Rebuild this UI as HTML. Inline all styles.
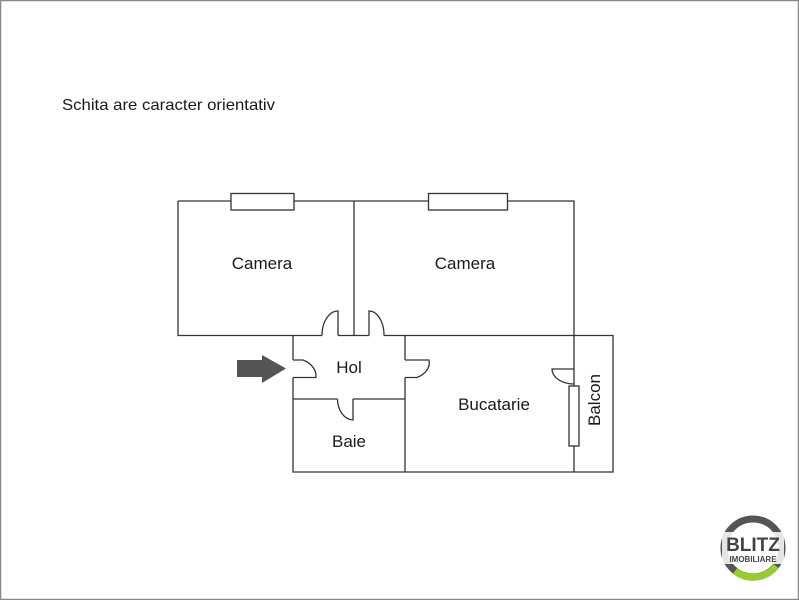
<!DOCTYPE html>
<html><head><meta charset="utf-8"><style>
html,body{margin:0;padding:0;background:#fff}
svg{display:block}
text{font-family:"Liberation Sans",sans-serif;fill:#1a1a1a}
</style></head><body>
<svg width="799" height="600" viewBox="0 0 799 600" xmlns="http://www.w3.org/2000/svg">
<rect x="0.5" y="0.5" width="798" height="599" fill="#fff" stroke="#888" stroke-width="1.5"/>
<text x="62" y="110" font-size="16" textLength="213" lengthAdjust="spacingAndGlyphs">Schita are caracter orientativ</text>
<g fill="none" stroke="#333" stroke-width="1.3">
<path d="M178 201 H574 V472"/>
<path d="M178 201 V335.5 H322"/>
<path d="M338 335.5 H369"/>
<path d="M384 335.5 H613 V472 H293 V377.5"/>
<path d="M293 360 V335.5"/>
<path d="M354 201 V335.5"/>
<rect x="231" y="193.5" width="63" height="16.5" fill="#fff"/>
<rect x="428.5" y="193.5" width="79" height="16.5" fill="#fff"/>
<path d="M405 335.5 V360 M405 377.5 V472"/>
<path d="M293 399 H337.5 M353 399 H405"/>
<path d="M338 335.5 V311 A16 24 0 0 0 322 335.5"/>
<path d="M369 335.5 V311 A15 24 0 0 1 384 335.5"/>
<path d="M293 360 H303 A23 18 0 0 1 316 377.5 H293"/>
<path d="M405 360 H429 A24 17 0 0 1 417 377.5 H405"/>
<path d="M353 399 V420 A16 21 0 0 1 337.5 399"/>
<path d="M574 369 H552 A22 15 0 0 0 574 384"/>
<rect x="569" y="386" width="10" height="60" fill="#fff"/>
</g>
<polygon points="237,360 262,360 262,355 286,368.5 262,383 262,377 237,377" fill="#555"/>
<g font-size="17">
<text x="262" y="269" text-anchor="middle">Camera</text>
<text x="465" y="269" text-anchor="middle">Camera</text>
<text x="349" y="373" text-anchor="middle">Hol</text>
<text x="349" y="447" text-anchor="middle">Baie</text>
<text x="494" y="410" text-anchor="middle">Bucatarie</text>
<text x="0" y="0" text-anchor="middle" transform="translate(600,400) rotate(-90)">Balcon</text>
</g>
<circle cx="753" cy="548" r="29" fill="none" stroke="#555" stroke-width="7"/>
<path d="M735 571 A29 29 0 0 0 776 566" fill="none" stroke="#9c3" stroke-width="7"/>
<rect x="722" y="532" width="62" height="32" fill="#fff" opacity="0.85"/>
<text x="753" y="551" font-size="19" font-weight="bold" text-anchor="middle" style="fill:#444">BLITZ</text>
<text x="753" y="562" font-size="8" font-weight="bold" text-anchor="middle" style="fill:#444">IMOBILIARE</text>
</svg>
</body></html>
